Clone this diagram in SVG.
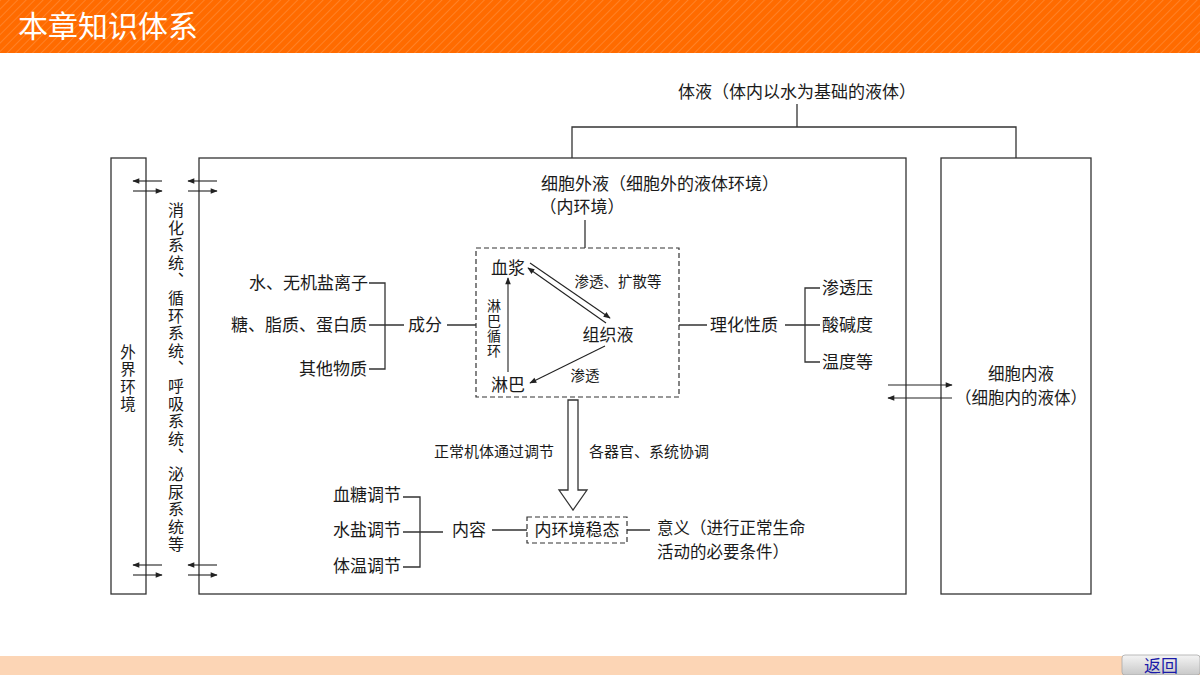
<svg xmlns="http://www.w3.org/2000/svg" width="1200" height="675" viewBox="0 0 1200 675">
<style>
text{font-family:"Noto Sans CJK SC","Liberation Serif",sans-serif;fill:#1a1a1a;font-size:17px;}
.s{font-size:15px;}
.t{font-size:16.5px;}
.vt{writing-mode:vertical-rl;text-anchor:start;}
.m{text-anchor:middle;}
.e{text-anchor:end;}
.ln{stroke:#333;stroke-width:1.3;fill:none;}
.box{stroke:#333;stroke-width:1.3;fill:#fff;}
.dash{stroke:#333;stroke-width:1.2;fill:none;stroke-dasharray:5,3;}
.ar{stroke:#222;stroke-width:1.1;fill:none;marker-end:url(#ah);}
</style>
<defs>
<marker id="ah" viewBox="0 0 10 10" refX="9" refY="5" markerWidth="8" markerHeight="7" markerUnits="userSpaceOnUse" orient="auto">
<path d="M0,1 L10,5 L0,9 Z" fill="#222"/>
</marker>
<pattern id="stripe" width="6" height="6" patternUnits="userSpaceOnUse" patternTransform="rotate(45)">
<rect width="6" height="6" fill="#FF6B00"/>
<line x1="0" y1="0" x2="0" y2="6" stroke="#FF8A33" stroke-width="1.5"/>
</pattern>
<linearGradient id="btn" x1="0" y1="0" x2="0" y2="1">
<stop offset="0" stop-color="#f4f4f4"/>
<stop offset="1" stop-color="#c8c8c8"/>
</linearGradient>
</defs>

<rect width="1200" height="675" fill="#fff"/>
<g id="header">
<rect x="0" y="0" width="1200" height="53" fill="url(#stripe)"/>
<text x="18" y="37" style="font-size:30px;fill:#fff;">本章知识体系</text>
</g>
<g id="footer">
<rect x="0" y="656" width="1200" height="19" fill="#FCD5B5"/>
<rect x="1122" y="655" width="78" height="20" rx="3" fill="url(#btn)" stroke="#aaa" stroke-width="0.8"/>
<text x="1161" y="672" class="m" style="fill:#1a1aa8;font-size:17px;">返回</text>
</g>

<g id="outer-env">
<rect class="box" x="111" y="158" width="35" height="436"/>
<text x="128" y="344" class="vt" style="font-size:15.5px;letter-spacing:2px;">外界环境</text>
</g>

<g id="systems">
<text x="176" y="202" class="vt" style="font-size:16px;letter-spacing:1.6px;">消化系统、循环系统、呼吸系统、泌尿系统等</text>
</g>

<g id="extracellular">
<rect class="box" x="199" y="158" width="707" height="436"/>
</g>
<g id="intracellular">
<rect class="box" x="941" y="158" width="150" height="436"/>
<text x="1021" y="380" class="m t">细胞内液</text>
<text x="1021" y="404" class="m t">（细胞内的液体）</text>
</g>

<g id="body-fluid">
<text x="797" y="98" class="m">体液（体内以水为基础的液体）</text>
</g>
<g id="ecf-label">
<text x="660" y="190" class="m">细胞外液（细胞外的液体环境）</text>
<text x="582" y="213" class="m">（内环境）</text>
</g>

<g id="triangle">
<rect class="dash" x="476" y="248" width="203" height="149"/>
<text x="508" y="274" class="m">血浆</text>
<text x="608" y="341" class="m">组织液</text>
<text x="508" y="391" class="m">淋巴</text>
<text x="618" y="287" class="m" style="font-size:14.5px;">渗透、扩散等</text>
<text x="585" y="381" class="m" style="font-size:14.5px;">渗透</text>
<text x="494" y="299" class="vt" style="font-size:14px;letter-spacing:1px;">淋巴循环</text>
</g>

<g id="components">
<text x="368" y="289" class="e">水、无机盐离子</text>
<text x="367" y="331" class="e">糖、脂质、蛋白质</text>
<text x="367" y="375" class="e">其他物质</text>
<text x="425" y="331" class="m">成分</text>
</g>

<g id="properties">
<text x="710" y="331">理化性质</text>
<text x="822" y="294">渗透压</text>
<text x="822" y="331">酸碱度</text>
<text x="822" y="368">温度等</text>
</g>

<g id="regulation-labels">
<text x="494" y="457" class="m s">正常机体通过调节</text>
<text x="589" y="457" class="s">各器官、系统协调</text>
</g>

<g id="homeostasis">
<rect class="dash" x="527" y="517" width="100" height="26"/>
<text x="577" y="536" class="m">内环境稳态</text>
</g>
<g id="content">
<text x="469" y="536" class="m">内容</text>
<text x="401" y="501" class="e">血糖调节</text>
<text x="401" y="536" class="e">水盐调节</text>
<text x="401" y="572" class="e">体温调节</text>
</g>
<g id="meaning">
<text x="657" y="534" class="t">意义（进行正常生命</text>
<text x="657" y="558" class="t">活动的必要条件）</text>
</g>

<g id="connectors">
<path class="ln" d="M797,104 V127 M572,158 V127 H1016 V158"/>
<path class="ln" d="M585,220 V248"/>
<path class="ln" d="M369,283 H385 V369 H369 M369,325 H404 M447,325 H476"/>
<path class="ln" d="M679,325 H707 M785,325 H820 M820,288 H805 V362 H820"/>
<path class="ln" d="M403,497 H420 V567 H403 M403,532 H443 M492,530 H527 M627,530 H650"/>
<polygon class="ln" points="568,400 578,400 578,490 587,490 573,510 559,490 568,490" style="fill:#fff;"/>
<line class="ar" x1="530" y1="263" x2="610" y2="318"/>
<line class="ar" x1="606" y1="323" x2="528" y2="268"/>
<line class="ar" x1="605" y1="346" x2="530" y2="383"/>
<line class="ar" x1="508" y1="372" x2="508" y2="278"/>
<line class="ar" x1="162" y1="181" x2="133" y2="181"/>
<line class="ar" x1="133" y1="191" x2="162" y2="191"/>
<line class="ar" x1="217" y1="181" x2="188" y2="181"/>
<line class="ar" x1="188" y1="191" x2="217" y2="191"/>
<line class="ar" x1="162" y1="565" x2="133" y2="565"/>
<line class="ar" x1="133" y1="575" x2="162" y2="575"/>
<line class="ar" x1="217" y1="565" x2="188" y2="565"/>
<line class="ar" x1="188" y1="575" x2="217" y2="575"/>
<line class="ar" x1="888" y1="385" x2="952" y2="385"/>
<line class="ar" x1="952" y1="398" x2="888" y2="398"/>
</g>
</svg>
